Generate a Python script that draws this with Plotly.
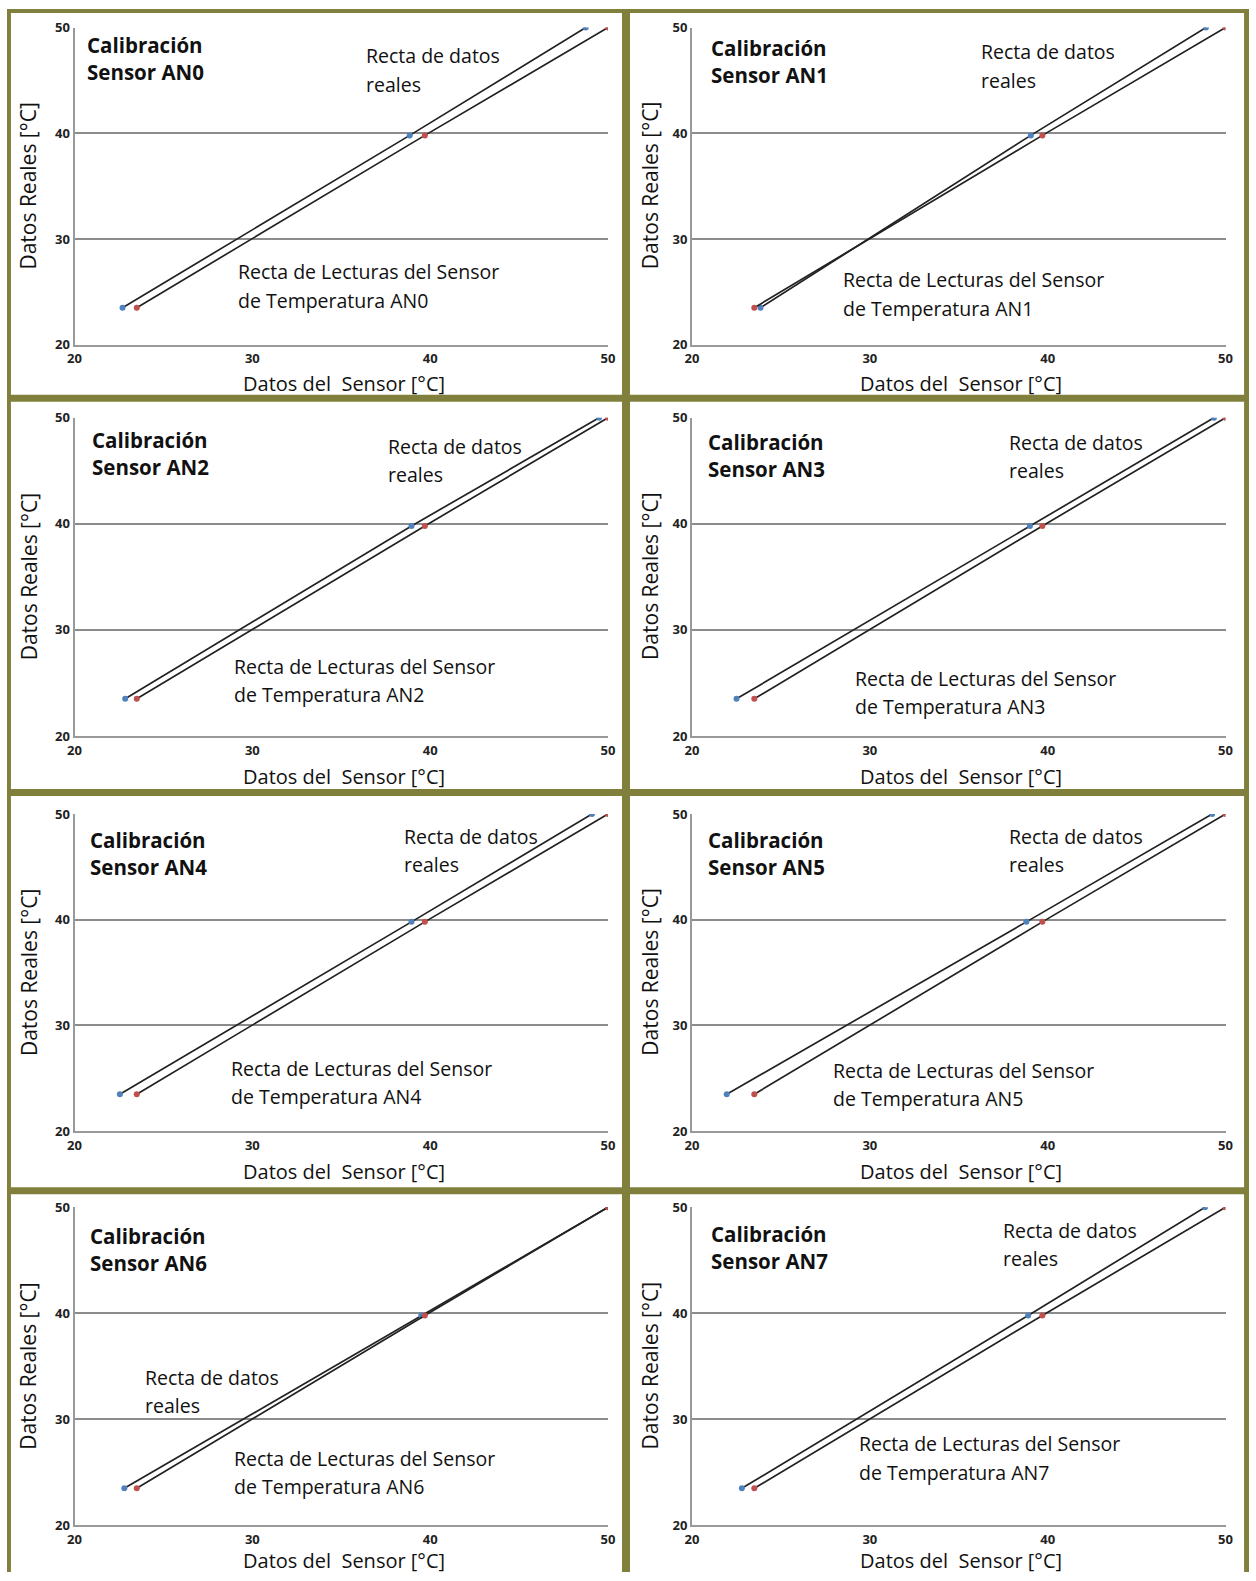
import plotly.graph_objects as go

# ---------------- data ----------------
sensors = ["AN0", "AN1", "AN2", "AN3", "AN4", "AN5", "AN6", "AN7"]
real_y = [23.5, 39.8, 50.0]                 # Datos reales (eje Y)
real_x = [23.5, 39.7, 50.0]                 # Recta de datos reales
sensor_x = {                                # Lecturas de cada sensor
    "AN0": [22.7, 38.85, 48.75],
    "AN1": [23.85, 39.05, 48.9],
    "AN2": [22.85, 38.95, 49.5],
    "AN3": [22.5, 39.0, 49.35],
    "AN4": [22.55, 38.95, 49.1],
    "AN5": [21.95, 38.8, 49.25],
    "AN6": [22.8, 39.5, 50.0],
    "AN7": [22.8, 38.9, 48.85],
}
tick_vals = [20, 30, 40, 50]
tick_text = ["20", "30", "40", "50"]

# ---------------- layout geometry ----------------
W, H = 1256, 1581
K = 0.988                      # compensation for the capture's slight centred shrink
S = 1256 / 1246.0
FONT = "Open Sans"
OLIVE = "#80803c"
BLUE = "#4f81bd"
RED = "#c0504d"

col_x = [(75, 608), (692, 1225)]
row_y = [(28, 345), (418, 736), (814, 1131), (1207, 1525)]

def fx(x):
    return W / 2 + (x - W / 2) / K

def fy(y):
    return H / 2 + (y - H / 2) / K

def px(x):
    return min(max(fx(x), 0), W) / W

def py(y):
    return 1 - min(max(fy(y), 0), H) / H

# annotation positions per panel (reference px, shrunk scale)
title_pos = [(85, 58), (703, 61), (90, 450), (700, 452),
             (88, 847), (700, 847), (88, 1239), (703, 1237)]
real_pos = [(361, 56, 84), (971, 52, 80), (383, 443, 471), (999, 439, 467),
            (399, 830, 858), (999, 830, 858), (142, 1366, 1394), (993, 1220, 1248)]
lect_pos = [(234, 270, 298), (834, 278, 306), (230, 661, 689), (846, 673, 701),
            (228, 1060, 1088), (824, 1062, 1090), (230, 1446, 1474), (850, 1432, 1460)]
xtitle_y = [384, 777, 1171, 1560]
xtitle_cx = [344, 961]
ytitle_x = [29, 650]

fig = go.Figure()
annotations = []
shapes = []

tickfont = dict(family=FONT, size=13, color="#222222", weight="bold")

for i, s in enumerate(sensors):
    r, c = divmod(i, 2)
    n = i + 1
    xa = "x" if n == 1 else f"x{n}"
    ya = "y" if n == 1 else f"y{n}"
    x0, x1 = col_x[c]
    yt, yb = row_y[r]

    fig.add_trace(go.Scatter(
        x=sensor_x[s], y=real_y, mode="lines+markers", name=f"Lecturas {s}",
        line=dict(color="#222222", width=1.7),
        marker=dict(color=BLUE, size=6), xaxis=xa, yaxis=ya, showlegend=False))
    fig.add_trace(go.Scatter(
        x=real_x, y=real_y, mode="lines+markers", name="Datos reales",
        line=dict(color="#222222", width=1.7),
        marker=dict(color=RED, size=6), xaxis=xa, yaxis=ya, showlegend=False))

    axkey = "xaxis" if n == 1 else f"xaxis{n}"
    aykey = "yaxis" if n == 1 else f"yaxis{n}"
    fig.layout[axkey] = dict(
        domain=[px(x0), px(x1)], range=[20, 50], anchor=ya,
        tickvals=tick_vals, ticktext=tick_text, showgrid=False,
        showline=True, linecolor="#999999", linewidth=2, ticks="",
        tickfont=tickfont, ticklabelstandoff=1, zeroline=False, fixedrange=True)
    fig.layout[aykey] = dict(
        domain=[py(yb), py(yt)], range=[20, 50], anchor=xa,
        tickvals=tick_vals, ticktext=tick_text, showgrid=True,
        gridcolor="#8c8c8c", gridwidth=1.5,
        showline=True, linecolor="#999999", linewidth=2, ticks="",
        tickfont=tickfont, ticklabelstandoff=0, zeroline=False, fixedrange=True)

    def add_text(x, y, text, size, bold=False, angle=0, xanchor="left"):
        annotations.append(dict(
            x=px(x), y=py(y), xref="paper", yref="paper", text=text,
            showarrow=False, xanchor=xanchor, yanchor="middle", textangle=angle,
            align="left",
            font=dict(family=FONT, size=size, color="#111111",
                      weight="bold" if bold else "normal")))

    tx, ty = title_pos[i]
    add_text(tx * S, ty * S, f"Calibración<br>Sensor {s}", 20.5, bold=True)
    rx, ry1, ry2 = real_pos[i]
    add_text(rx * S, ry1 * S, "Recta de datos", 19.5)
    add_text(rx * S, ry2 * S, "reales", 19.5)
    lx, ly1, ly2 = lect_pos[i]
    add_text(lx * S, ly1 * S, "Recta de Lecturas del Sensor", 19.5)
    add_text(lx * S, ly2 * S, f"de Temperatura {s}", 19.5)
    add_text(xtitle_cx[c], xtitle_y[r], "Datos del  Sensor [°C]", 20, xanchor="center")
    add_text(ytitle_x[c], (yt + yb) / 2, "Datos Reales [°C]", 21, angle=-90, xanchor="center")

# olive frame bands (figure pixels for the outer edge, reference pixels inside)
def band_px(a, b):
    return a / W, b / W

def band_py(a, b):
    return 1 - b / H, 1 - a / H

outer = [
    (0, W, 0, 4),            # top
    (0, 4, 0, H),            # left
    (W - 5, W, 0, H),        # right
]
for (xa0, xa1, ya0, ya1) in outer:
    x0p, x1p = band_px(xa0, xa1)
    y0p, y1p = band_py(ya0, ya1)
    shapes.append(dict(type="rect", xref="paper", yref="paper",
                       x0=x0p, x1=x1p, y0=y0p, y1=y1p,
                       fillcolor=OLIVE, line=dict(width=0), layer="above"))

inner = [(622, 0, 630, H), (0, 395, W, 402), (0, 789, W, 796), (0, 1187, W, 1194)]
for (a, b, c2, d) in inner:
    shapes.append(dict(type="rect", xref="paper", yref="paper",
                       x0=px(a), x1=px(c2), y0=py(d), y1=py(b),
                       fillcolor=OLIVE, line=dict(width=0), layer="above"))

fig.update_layout(
    width=W, height=H, margin=dict(l=0, r=0, t=0, b=0),
    paper_bgcolor="white", plot_bgcolor="white",
    annotations=annotations, shapes=shapes, showlegend=False)

fig.write_html(
    "out.html",
    config={"displayModeBar": False},
    post_script="document.body.style.margin='0';document.body.style.padding='0';"
                "document.documentElement.style.overflow='hidden';")
